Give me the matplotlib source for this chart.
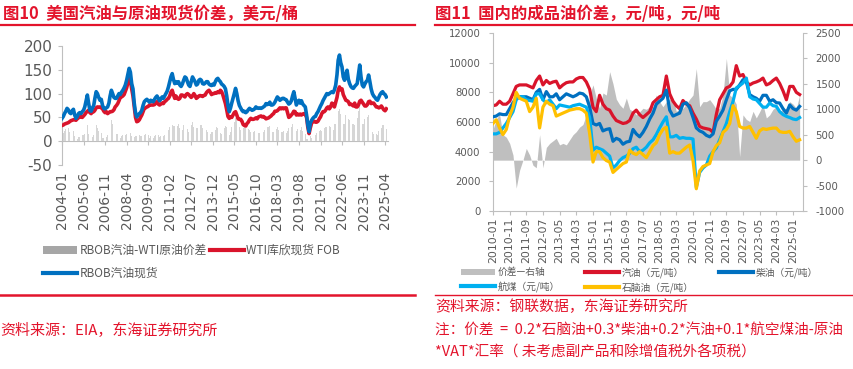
import numpy as np
import pandas as pd
import matplotlib
matplotlib.use('Agg')
import matplotlib.pyplot as plt
import matplotlib.dates as mdates
from matplotlib.lines import Line2D
from matplotlib.patches import Patch
from matplotlib.font_manager import FontProperties

# ---------------- data: 图10 (monthly, USD/bbl, 2004-01 .. 2025-05) ----------------
rbob = [
    48, 52, 58, 63, 69, 66, 60, 58, 64, 67, 55, 48,
    52, 58, 60, 58, 62, 65, 72, 85, 97, 80, 65, 63,
    70, 75, 90, 104, 100, 92, 86, 88, 75, 69, 68, 70,
    72, 80, 95, 107, 100, 92, 90, 90, 95, 100, 98, 103,
    107, 112, 118, 128, 140, 153, 145, 121, 110, 80, 60, 51,
    55, 58, 60, 65, 75, 83, 86, 88, 85, 82, 86, 84,
    83, 88, 92, 95, 90, 85, 88, 93, 90, 95, 100, 105,
    114, 125, 135, 142, 130, 121, 125, 122, 125, 118, 115, 120,
    128, 135, 133, 125, 118, 115, 125, 135, 130, 125, 118, 120,
    128, 130, 128, 121, 120, 122, 125, 125, 120, 118, 117, 120,
    118, 125, 130, 132, 128, 125, 120, 118, 115, 110, 95, 75,
    62, 70, 80, 90, 100, 111, 100, 85, 75, 70, 65, 62,
    63, 60, 62, 66, 69, 67, 65, 66, 68, 72, 70, 69,
    70, 69, 70, 72, 74, 79, 77, 78, 82, 76, 76, 78,
    82, 88, 93, 90, 86, 88, 90, 90, 88, 87, 82, 78,
    80, 85, 95, 104, 90, 76, 82, 86, 80, 85, 78, 75,
    72, 55, 35, 20, 38, 44, 48, 51, 52, 58, 62, 68,
    74, 79, 85, 90, 95, 100, 98, 100, 102, 104, 102, 108,
    118, 140, 170, 181, 165, 156, 135, 128, 140, 149, 130, 121,
    115, 112, 111, 115, 118, 121, 140, 160, 135, 118, 114, 120,
    125, 128, 139, 125, 110, 100, 95, 92, 88, 86, 92, 98,
    102, 104, 100, 98, 93,
]
wti = [
    33, 34, 36, 37, 38, 39, 41, 43, 44, 45, 45, 44,
    47, 49, 51, 52, 50, 53, 56, 60, 63, 65, 60, 58,
    62, 62, 65, 70, 72, 71, 72, 70, 68, 63, 60, 62,
    58, 60, 62, 62, 63, 66, 72, 75, 79, 85, 92, 93,
    95, 98, 105, 112, 122, 133, 128, 110, 95, 72, 50, 41,
    42, 45, 50, 55, 62, 69, 70, 72, 73, 76, 76, 76,
    76, 77, 80, 83, 78, 76, 78, 80, 79, 83, 85, 88,
    90, 95, 103, 107, 98, 90, 95, 90, 88, 90, 97, 97,
    95, 93, 98, 100, 98, 95, 92, 95, 100, 96, 90, 92,
    95, 96, 95, 94, 96, 97, 102, 105, 107, 103, 98, 100,
    100, 102, 101, 104, 102, 107, 104, 97, 88, 79, 66, 52,
    48, 51, 50, 55, 60, 62, 55, 47, 46, 46, 42, 35,
    33, 32, 37, 40, 45, 48, 46, 46, 47, 49, 47, 51,
    52, 53, 51, 52, 50, 47, 48, 49, 51, 53, 56, 58,
    63, 63, 64, 67, 70, 68, 70, 68, 70, 70, 60, 50,
    52, 55, 58, 63, 62, 55, 57, 55, 57, 55, 57, 58,
    56, 50, 30, 16, 28, 38, 41, 42, 40, 40, 42, 47,
    51, 58, 62, 62, 65, 70, 72, 68, 72, 80, 78, 72,
    82, 92, 107, 114, 108, 110, 98, 92, 86, 85, 83, 77,
    78, 76, 74, 80, 72, 72, 76, 84, 86, 82, 78, 74,
    74, 77, 83, 84, 79, 80, 80, 76, 72, 72, 70, 71,
    74, 70, 66, 64, 68,
]
left_ticks = pd.date_range('2004-01-01', periods=16, freq='17MS')

# ---------------- data: 图11 (every two months, 2010-01 .. 2025-05) ----------------
gasoline = [
    7100, 7150, 7400, 7200, 7200, 7400,
    7900, 8400, 8500, 8500, 8500, 8400,
    8300, 8800, 9100, 8500, 8800, 8600,
    8700, 8750, 8300, 8500, 8650, 8700,
    8700, 8900, 9000, 9000, 8700, 8200,
    7000, 6700, 7800, 7200, 6900, 6800,
    6400, 6100, 6000, 5900, 5950, 6100,
    6600, 6800, 6500, 6300, 6500, 6700,
    7300, 7500, 7700, 7800, 9100, 7900,
    7400, 7100, 6900, 7450, 7200, 7100,
    6600, 6200, 5700, 5600, 5550, 5500,
    5300, 6500, 7500, 7900, 8300, 8400,
    8700, 9800, 9100, 9200, 8700, 8500,
    8630, 8700, 8800, 8960, 8500, 8600,
    8800, 8960, 8600, 8100, 7500, 8400,
    8400, 8000, 7850,
]
diesel = [
    6350, 6400, 6550, 6500, 6500, 6900,
    7300, 7600, 7700, 7700, 7700, 7600,
    7500, 8000, 8200, 7500, 8050, 7700,
    7700, 7900, 7500, 7700, 7900, 7800,
    7700, 7800, 7950, 7900, 7700, 7000,
    5900, 5800, 5900, 5400, 5500, 5550,
    4700, 4900, 4800, 4500, 4650, 4700,
    5500, 5200, 5000, 5300, 5700, 6200,
    6600, 7200, 7400, 7600, 8150, 6800,
    6400, 6500, 6600, 7200, 7300, 6950,
    6300, 5600, 5400, 5300, 5100, 5000,
    5200, 6050, 6400, 6800, 7500, 8100,
    8200, 8200, 8500, 8850, 8700, 7850,
    7700, 7600, 7400, 7800, 7800, 7400,
    7500, 7300, 7280, 6900, 6600, 7150,
    6900, 6800, 7050,
]
jet = [
    5200, 5200, 5300, 5600, 5900, 6300,
    6700, 7500, 7700, 7700, 7500, 7450,
    7400, 7900, 7900, 7500, 7300, 7500,
    7200, 6900, 7150, 7100, 7050, 7000,
    7100, 7150, 7200, 7100, 7000, 6300,
    4100, 4300, 4200, 4100, 3900, 3700,
    2900, 3100, 3400, 3600, 3700, 3900,
    4200, 4300, 4000, 4100, 4300, 4600,
    4800, 5150, 5600, 6000, 6350, 5000,
    5000, 5100, 4900, 4950, 4900, 4900,
    4850, 1600, 2600, 2900, 3100, 3700,
    4000, 4250, 4800, 5350, 5900, 6700,
    7400, 8300, 8450, 8630, 8960, 7700,
    7550, 7500, 7250, 7000, 7000, 7280,
    7100, 7060, 6700, 6500, 6380, 6300,
    6200, 6160, 6300,
]
naphtha = [
    5900, 6150, 5600, 5150, 5500, 6400,
    7000, 8000, 7600, 7500, 7400, 6700,
    7000, 7600, 5600, 7000, 7400, 7200,
    7100, 6400, 6500, 6600, 6700, 6800,
    6850, 6900, 6900, 6800, 6600, 5200,
    3300, 4000, 4000, 3600, 3400, 3300,
    2600, 2800, 3000, 3200, 3300, 4100,
    3900, 3800, 4000, 3800, 3600, 4000,
    4400, 4600, 5150, 5500, 5650, 3900,
    4000, 3900, 3900, 4100, 4300, 4450,
    3400, 1500, 2700, 3000, 3100, 3200,
    4000, 4400, 4600, 5300, 5500, 5900,
    7100, 6700, 5700, 5590, 5590, 5700,
    5300, 4900, 5400, 5550, 5500, 5550,
    5590, 5590, 5350, 5300, 5300, 5370,
    5000, 4700, 4800,
]
margin = [
    600, 800, 900, 500, 450, 330,
    100, -550, -200, 0, 230, 100,
    -100, -150, 500, -150, 250, 330,
    380, 430, 300, 330, 300, 400,
    500, 560, 650, 700, 890, 1280,
    1480, 1220, 1020, 1320, 1280, 1740,
    1500, 1200, 1090, 1020, 1220, 1000,
    960, 890, 950, 1020, 1000, 1050,
    1050, 1280, 1150, 1050, 1150, 1200,
    1220, 960, 1000, 1020, 1100, 1200,
    1280, 1800, 1050, 1150, 1150, 1190,
    1100, 1000, 1020, 1280, 2000, 1280,
    1220, 1100, 70, 890, 800, 760,
    960, 830, 950, 1090, 830, 890,
    1000, 1050, 960, 1000, 1020, 1150,
    1100, 1020, 1280,
]
right_ticks = pd.date_range('2010-01-01', periods=19, freq='10MS')

RED = '#D9142B'
RED_T = '#E3142C'
BLUE = '#0070C0'
LBLUE = '#00B0F0'
YELLOW = '#FFC000'
AXC = '#BFBFBF'
TXT = '#595959'
CJK = ['Noto Sans CJK SC', 'DejaVu Sans']

plt.rcParams['font.family'] = ['DejaVu Sans']
plt.rcParams['axes.unicode_minus'] = False
fig = plt.figure(figsize=(8.54, 3.69), dpi=100)
W, H = 854, 369

# ---------------- left panel ----------------
ax1 = fig.add_axes([62 / W, 1 - 165 / H, 326 / W, 119 / H])
x1 = mdates.date2num(pd.date_range('2004-01-01', periods=len(rbob), freq='MS'))
spread = np.array(rbob) - np.array(wti)
ax1.bar(x1, spread, width=16, color='#D6D6D6', zorder=1)
ax1.plot(x1, wti, color=RED, lw=2.6, zorder=3)
ax1.plot(x1, rbob, color=BLUE, lw=2.6, zorder=4)
ax1.set_xlim(mdates.date2num(pd.Timestamp('2004-01-01')), mdates.date2num(pd.Timestamp('2025-06-10')))
ax1.set_ylim(-50, 200)
ax1.set_yticks(range(-50, 201, 50))
for s in ['top', 'right', 'bottom']:
    ax1.spines[s].set_visible(False)
ax1.spines['left'].set_color(AXC)
ax1.tick_params(axis='y', direction='out', length=3, color=AXC, labelsize=11,
                labelcolor=TXT, pad=4)
lt = mdates.date2num(left_ticks)
ax1.set_xticks(lt)
ax1.set_xticklabels([d.strftime('%Y-%m') for d in left_ticks], rotation=90,
                    fontsize=10, color=TXT)
ax1.tick_params(axis='x', length=0, pad=5)
sec = ax1.secondary_xaxis(0.2)
sec.set_xticks(lt)
sec.tick_params(axis='x', length=3, color=AXC, labelbottom=False, labeltop=False)
for s in sec.spines.values():
    s.set_color(AXC)

h1 = [Patch(facecolor='#A6A6A6'),
      Line2D([], [], color=BLUE, lw=3),
      Line2D([], [], color=RED, lw=3)]
l1 = ['RBOB汽油-WTI原油价差', 'RBOB汽油现货', 'WTI库欣现货 FOB']
leg1 = fig.legend(h1, l1, ncol=2, loc='upper left', bbox_to_anchor=(43 / W, 1 - 244 / H),
                  frameon=False, prop=FontProperties(family=CJK, size=8.5),
                  handlelength=2.9, handleheight=0.6, handletextpad=0.2,
                  columnspacing=0.25, labelspacing=0.85, borderpad=0, borderaxespad=0)
for t in leg1.get_texts():
    t.set_color(TXT)

# ---------------- right panel ----------------
ax2 = fig.add_axes([493 / W, 1 - 211 / H, 310 / W, 178 / H])
ax2r = ax2.twinx()
x2 = mdates.date2num(pd.date_range('2010-01-01', periods=len(gasoline), freq='2MS'))
ax2r.fill_between(x2, 0, margin, color='#BFBFBF', lw=0)
ax2.set_zorder(ax2r.get_zorder() + 1)
ax2.patch.set_visible(False)
ax2.plot(x2, gasoline, color=RED, lw=2.3, zorder=2)
ax2.plot(x2, diesel, color=BLUE, lw=2.3, zorder=3)
ax2.plot(x2, jet, color=LBLUE, lw=2.3, zorder=4)
ax2.plot(x2, naphtha, color=YELLOW, lw=2.3, zorder=5)
ax2.set_xlim(mdates.date2num(pd.Timestamp('2010-01-01')), mdates.date2num(pd.Timestamp('2025-07-01')))
ax2.set_ylim(0, 12000)
ax2.set_yticks(range(0, 12001, 2000))
ax2r.set_ylim(-1000, 2500)
ax2r.set_yticks(range(-1000, 2501, 500))
for s in ['top', 'right']:
    ax2.spines[s].set_visible(False)
for s in ['top', 'left', 'bottom']:
    ax2r.spines[s].set_visible(False)
ax2.spines['left'].set_color(AXC)
ax2.spines['bottom'].set_color(AXC)
ax2r.spines['right'].set_color(AXC)
ax2.tick_params(axis='y', direction='out', length=3, color=AXC, labelsize=7.3,
                labelcolor=TXT, pad=6)
ax2r.tick_params(axis='y', direction='out', length=3, color=AXC, labelsize=7.3,
                 labelcolor=TXT, pad=6)
rt = mdates.date2num(right_ticks)
ax2.set_xticks(rt)
ax2.set_xticklabels([d.strftime('%Y-%m') for d in right_ticks], rotation=90,
                    fontsize=7.8, color=TXT)
ax2.tick_params(axis='x', direction='out', length=3, color=AXC, pad=2)

h2 = [Patch(facecolor='#BFBFBF'),
      Line2D([], [], color=LBLUE, lw=3),
      Line2D([], [], color=RED, lw=3),
      Line2D([], [], color=YELLOW, lw=3),
      Line2D([], [], color=BLUE, lw=3)]
l2 = ['价差—右轴', '航煤（元/吨）', '汽油（元/吨）', '石脑油（元/吨）', '柴油（元/吨）']
leg2 = fig.legend(h2, l2, ncol=3, loc='upper left', bbox_to_anchor=(461 / W, 1 - 267 / H),
                  frameon=False, prop=FontProperties(family=CJK, size=7),
                  handlelength=3.5, handleheight=0.6, handletextpad=0.25,
                  columnspacing=2.6, labelspacing=0.4, borderpad=0, borderaxespad=0)
for t in leg2.get_texts():
    t.set_color(TXT)

# ---------------- titles, rules, sources ----------------
fig.text(3 / W, 1 - 14 / H, '图10  美国汽油与原油现货价差，美元/桶', ha='left', va='center',
         fontsize=11.8, weight='bold', color=RED_T, family=CJK)
fig.text(435 / W, 1 - 14 / H, '图11  国内的成品油价差，元/吨，元/吨', ha='left', va='center',
         fontsize=11.8, weight='bold', color=RED_T, family=CJK)
for xa, xb, yy, lw in [(0, 415, 25, 1.6), (435, 854, 25, 1.6),
                       (0, 415, 295, 1.8), (435, 854, 295, 1.0)]:
    fig.add_artist(Line2D([xa / W, xb / W], [1 - yy / H] * 2, color=RED_T, lw=lw,
                          transform=fig.transFigure))

fig.text(0, 1 - 330 / H, '资料来源：EIA，东海证券研究所', ha='left', va='center',
         fontsize=10.8, color=RED_T, family=CJK)
fig.text(435 / W, 1 - 307 / H, '资料来源：钢联数据，东海证券研究所', ha='left', va='center',
         fontsize=10.7, color=RED_T, family=CJK)
fig.text(435 / W, 1 - 330 / H, '注：价差  =  0.2*石脑油+0.3*柴油+0.2*汽油+0.1*航空煤油-原油',
         ha='left', va='center', fontsize=10.5, color=RED_T, family=CJK)
fig.text(435 / W, 1 - 353 / H, '*VAT*汇率（ 未考虑副产品和除增值税外各项税）', ha='left',
         va='center', fontsize=10.5, color=RED_T, family=CJK)

fig.savefig('out.png', dpi=100)
